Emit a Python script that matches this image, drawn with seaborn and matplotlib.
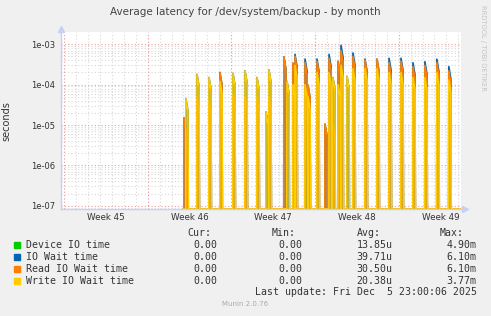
import numpy as np
import pandas as pd
import matplotlib
matplotlib.use("Agg")
import matplotlib.pyplot as plt
import matplotlib.dates as mdates
from matplotlib.ticker import FixedLocator, FixedFormatter, LogLocator, NullFormatter
import seaborn as sns

# ---------------- data ----------------
title = "Average latency for /dev/system/backup - by month"
series_names = ["Device IO time", "IO Wait time", "Read IO Wait time", "Write IO Wait time"]
series_colors = ["#00cc00", "#0066b3", "#ff8000", "#ffcc00"]
week_labels = ["Week 45", "Week 46", "Week 47", "Week 48", "Week 49"]
ytick_values = [1e-7, 1e-6, 1e-5, 1e-4, 1e-3]
ytick_labels = ["1e-07", "1e-06", "1e-05", "1e-04", "1e-03"]
start_date = "2025-11-03"

# spike times, in days after start_date
spike_days = [10.04, 10.20, 11.13, 12.13, 13.05, 14.14, 15.15, 16.15, 16.90, 17.15,
              18.40, 18.66, 19.16, 19.33, 20.17, 20.42, 21.17, 21.84, 22.18, 22.50,
              22.93, 23.18, 23.68, 24.18, 25.19, 26.19, 27.20, 28.20, 29.20, 30.20,
              31.20, 32.20]
device_io = [0, 0, 0, 0, 0, 0, 0, 0, 0, 0,
             0, 0, 1.3e-5, 0, 1.5e-5, 0, 0, 0, 0, 0,
             0, 0, 0, 0, 0, 0, 0, 0, 0, 0,
             0, 0]
io_wait = [1.5e-5, 4.4e-5, 1.8e-4, 1.5e-4, 2.0e-4, 1.9e-4, 2.2e-4, 1.5e-4, 2.1e-5, 2.3e-4,
           4.9e-4, 1.2e-4, 3.4e-4, 5.6e-4, 4.3e-4, 9.7e-5, 4.3e-4, 1.05e-5, 5.6e-4, 1.5e-4,
           3.8e-4, 9.4e-4, 1.6e-4, 6.1e-4, 4.3e-4, 4.3e-4, 4.5e-4, 4.5e-4, 3.5e-4, 3.7e-4,
           4.3e-4, 2.8e-4]
read_wait = [1.5e-5, 0, 5e-5, 4e-5, 2.0e-4, 6e-5, 5e-5, 5e-5, 0, 5e-5,
             4.9e-4, 0, 3.4e-4, 5.0e-4, 3.5e-4, 9.7e-5, 3.8e-4, 1.05e-5, 4.5e-4, 1.1e-5,
             3.8e-4, 7e-4, 0, 5e-4, 4e-4, 4.3e-4, 3.5e-4, 3.8e-4, 2.8e-4, 3e-4,
             3.5e-4, 2.2e-4]
write_wait = [0, 4.4e-5, 1.8e-4, 1.5e-4, 1.2e-4, 1.9e-4, 2.2e-4, 1.5e-4, 2.1e-5, 2.3e-4,
              0, 1.2e-4, 1e-4, 3e-4, 1e-4, 5e-5, 2e-4, 0, 2e-4, 1.5e-4,
              1e-4, 3e-4, 1.6e-4, 2.5e-4, 2.5e-4, 2.5e-4, 2e-4, 2e-4, 1.5e-4, 1.5e-4,
              2e-4, 1.3e-4]

cur_vals = ["0.00", "0.00", "0.00", "0.00"]
min_vals = ["0.00", "0.00", "0.00", "0.00"]
avg_vals = ["13.85u", "39.71u", "30.50u", "20.38u"]
max_vals = ["4.90m", "6.10m", "6.10m", "3.77m"]
last_update = "Last update: Fri Dec  5 23:00:06 2025"
footer = "Munin 2.0.76"

# ---------------- build frame ----------------
y_bottom, y_top = 8.3e-8, 1.98e-3
x_left_day, x_right_day = -0.25, 33.22
start = pd.Timestamp(start_date)
series_values = [device_io, io_wait, read_wait, write_wait]

rows = []
for name, vals in zip(series_names, series_values):
    pts = [(spike_days[0] - 0.05, y_bottom)]
    for d, v in zip(spike_days, vals):
        if v > 0:
            pts += [(d - 0.01, y_bottom), (d, v), (d + 0.17, v * 0.5), (d + 0.2, y_bottom)]
    pts.append((x_right_day + 0.5, y_bottom))
    for d, v in pts:
        rows.append({"t": start + pd.to_timedelta(d, unit="D"), "v": v, "series": name})
df = pd.DataFrame(rows)

# ---------------- figure ----------------
sns.set_style("white")
plt.rcParams["font.family"] = ["DejaVu Sans"]
fig = plt.figure(figsize=(4.91, 3.16), dpi=100, facecolor="#f0f0f0")
ax = fig.add_axes([61 / 491, 1 - 209 / 316, 400 / 491, (209 - 32.3) / 316])
ax.set_facecolor("white")
ax.set_yscale("log")

# grid
ax.set_axisbelow(True)
ax.xaxis.set_minor_locator(mdates.DayLocator())
ax.yaxis.set_major_locator(FixedLocator(ytick_values))
ax.yaxis.set_major_formatter(FixedFormatter(ytick_labels))
ax.yaxis.set_minor_locator(LogLocator(base=10, subs=np.arange(2, 10)))
ax.yaxis.set_minor_formatter(NullFormatter())
ax.grid(which="minor", axis="both", color="#d8d8d8", linestyle=(0, (1, 2)), linewidth=0.8)
ax.grid(which="major", axis="y", color="#f2a0a0", linestyle=(0, (1, 2)), linewidth=0.8)
for w in range(5):
    ax.axvline(start + pd.Timedelta(days=7 * w), color="#f2a0a0",
               linestyle=(0, (1, 2)), linewidth=0.8, zorder=0.6)

# fills
for name, col in zip(series_names, series_colors):
    sub = df[df["series"] == name]
    ax.fill_between(sub["t"], y_bottom, sub["v"], color=col, alpha=0.3, linewidth=0, zorder=1)

sns.lineplot(data=df, x="t", y="v", hue="series", hue_order=series_names,
             palette=series_colors, estimator=None, sort=False, linewidth=1.2,
             legend=False, ax=ax, zorder=2)

ax.set_ylim(y_bottom, y_top)
ax.set_xlim(start + pd.to_timedelta(x_left_day, unit="D"),
            start + pd.to_timedelta(x_right_day, unit="D"))

week_centers = [start + pd.Timedelta(days=7 * w + 3.5) for w in range(5)]
ax.set_xticks(week_centers)
ax.set_xticklabels(week_labels)
ax.tick_params(axis="x", which="both", length=0, labelsize=6.3, colors="#333333", pad=3)
ax.tick_params(axis="y", which="major", length=2, width=0.6, color="#999999",
               labelsize=6.0, labelcolor="#333333", pad=2)
ax.tick_params(axis="y", which="minor", length=0)
ax.set_xlabel("")
ax.set_ylabel("seconds", fontsize=7, color="#333333", labelpad=10)
ax.yaxis.set_label_coords(-0.125, 0.5)

for s in ["top", "right"]:
    ax.spines[s].set_visible(False)
for s in ["left", "bottom"]:
    ax.spines[s].set_color("#c8cff5")
    ax.spines[s].set_linewidth(1.0)
ax.plot([0], [1.02], marker="^", ms=4, color="#c8cff5", transform=ax.transAxes, clip_on=False)
ax.plot([1.01], [0], marker=">", ms=4, color="#c8cff5", transform=ax.transAxes, clip_on=False)

# title and side text
fig.text(245 / 491, 1 - 12.3 / 316, title, ha="center", va="center", fontsize=7.5, color="#444444")
fig.text(483 / 491, 1 - 5 / 316, "RRDTOOL / TOBI OETIKER", rotation=-90, ha="center", va="top",
         fontsize=4.9, color="#c4c4c4")

# legend
mono = "DejaVu Sans Mono"
fs = 7.15
def fy(py):
    return 1 - py / 316

for txt, xr in zip(["Cur:", "Min:", "Avg:", "Max:"], [211, 296, 381, 464]):
    fig.text(xr / 491, fy(233), txt, ha="right", va="center", family=mono, fontsize=fs, color="#333333")
row_y = [244.7, 256.7, 268.7, 280.7]
for i, (name, col) in enumerate(zip(series_names, series_colors)):
    y = row_y[i]
    fig.patches.append(plt.Rectangle((14 / 491, fy(y + 3)), 6 / 491, 6 / 316,
                                     transform=fig.transFigure, color=col))
    fig.text(26 / 491, fy(y), name, ha="left", va="center", family=mono, fontsize=fs, color="#333333")
    for vals, xr in zip([cur_vals, min_vals, avg_vals, max_vals], [217.7, 302.7, 392.3, 476.7]):
        fig.text(xr / 491, fy(y), vals[i], ha="right", va="center", family=mono,
                 fontsize=fs, color="#333333")
fig.text(476.7 / 491, fy(292.3), last_update, ha="right", va="center", family=mono,
         fontsize=fs, color="#333333")
fig.text(245 / 491, fy(304), footer, ha="center", va="center", fontsize=5, color="#aaaaaa")

fig.savefig("out.png", dpi=100, facecolor=fig.get_facecolor())
